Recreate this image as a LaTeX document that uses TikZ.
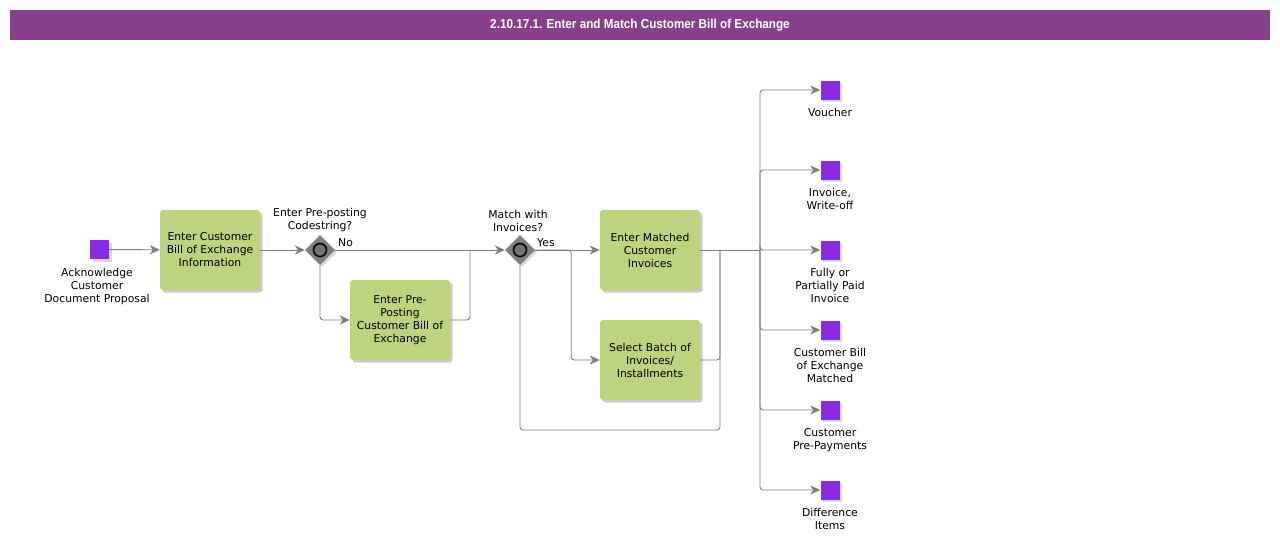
\documentclass[tikz,border=0pt]{standalone}
\usepackage{fontspec}
\setmainfont{DejaVu Sans}
\newfontfamily\titlefont{Liberation Sans}
\usetikzlibrary{arrows.meta,shadows,shapes.geometric}
\definecolor{titlebg}{HTML}{87418C}
\definecolor{taskgreen}{HTML}{BDD37D}
\definecolor{evpurple}{HTML}{8A2BE2}
\definecolor{flowgray}{HTML}{7F7F7F}
\definecolor{gwgray}{HTML}{808080}
\tikzset{
  every node/.style={font=\fontsize{10.8}{13}\selectfont},
  taskbox/.style={draw=none, fill=taskgreen, rounded corners=3pt, minimum width=100pt, minimum height=80pt, align=center, inner sep=1pt,
    drop shadow={shadow xshift=2.5pt, shadow yshift=-2.5pt, fill=black!25, opacity=.8}},
  evbox/.style={draw=none, fill=evpurple, minimum size=19pt, inner sep=0pt,
    drop shadow={shadow xshift=2.5pt, shadow yshift=-2.5pt, fill=black!20, opacity=.8}},
  gwshape/.style={diamond, fill=gwgray, minimum size=30pt, inner sep=0pt, draw=none,
    drop shadow={shadow xshift=2pt, shadow yshift=-2pt, fill=black!20, opacity=.8}},
  evlabel/.style={anchor=north, align=center, inner sep=0pt},
  flow/.style={draw=flowgray, line width=0.9pt, rounded corners=3pt, -{Stealth[length=10pt,width=9pt,inset=3pt]}},
  plain/.style={draw=flowgray, line width=0.9pt, rounded corners=3pt},
}
\begin{document}
\begin{tikzpicture}[x=1pt,y=-1pt]
\useasboundingbox (0,0) rectangle (1280,544);
\fill[white] (0,0) rectangle (1280,544);
% title
\node[fill=titlebg, minimum width=1260pt, minimum height=30pt, inner sep=0pt, text=white, font=\titlefont\bfseries\fontsize{13}{14}\selectfont] (title) at (640,25) {\scalebox{0.9}[1]{2.10.17.1. Enter and Match Customer Bill of Exchange}};

% start event
\node[evbox] (s) at (99.5,249.5) {};
\node[evlabel] (sl) at (97,268) {Acknowledge\\Customer\\Document Proposal};

% tasks
\node[taskbox] (t1) at (210,250) {Enter Customer\\Bill of Exchange\\Information};
\node[taskbox] (t2) at (400,320) {Enter Pre-\\Posting\\Customer Bill of\\Exchange};
\node[taskbox] (t3) at (650,250) {Enter Matched\\Customer\\Invoices};
\node[taskbox] (t4) at (650,360) {Select Batch of\\Invoices/\\Installments};

% gateways
\node[gwshape] (g1) at (320,250) {};
\draw[black, line width=1.6pt, fill=black!55] (g1.center) circle (6.5pt);
\node[gwshape] (g2) at (520,250) {};
\draw[black, line width=1.6pt, fill=black!55] (g2.center) circle (6.5pt);
\node[align=center, anchor=south, inner sep=0pt] (g1l) at (320,232) {Enter Pre-posting\\Codestring?};
\node[align=center, anchor=south, inner sep=0pt] (g2l) at (518,232) {Match with\\Invoices?};
\node[anchor=west, inner sep=0pt] (no) at (338,243) {No};
\node[anchor=west, inner sep=0pt] (yes) at (537,243) {Yes};

% end events
\foreach \i/\y in {1/90,2/170,3/250,4/330,5/410,6/490}{
  \node[evbox] (e\i) at (830,\y) {};
}
\node[evlabel] (e1l) at (830,108) {Voucher};
\node[evlabel] (e2l) at (830,188) {Invoice,\\Write-off};
\node[evlabel] (e3l) at (830,268) {Fully or\\Partially Paid\\Invoice};
\node[evlabel] (e4l) at (830,348) {Customer Bill\\of Exchange\\Matched};
\node[evlabel] (e5l) at (830,428) {Customer\\Pre-Payments};
\node[evlabel] (e6l) at (830,508) {Difference\\Items};

% coordinates
\coordinate (m1) at (720,250);
\coordinate (m2) at (760,250);
\coordinate (lb) at (720,430);
\coordinate (j2) at (470,250);

% flows
\draw[flow] (s) -- (t1);
\draw[flow] (t1) -- (g1);
\draw[flow] (g1) -- (g2);
\draw[flow] (g1.south) |- (t2.west);
\draw[plain] (t2.east) -| (j2);
\draw[flow] (g2) -- (t3);
\draw[flow] (g2.east) -- ++(36,0) |- (t4.west);
\draw[plain] (t3.east) -- (m2);
\draw[plain] (t4.east) -| (m1);
\draw[plain] (g2.south) |- (lb) -- (m1);
\foreach \i in {1,...,6}{
  \draw[flow] (m2) |- (e\i.west);
}
\end{tikzpicture}
\end{document}
